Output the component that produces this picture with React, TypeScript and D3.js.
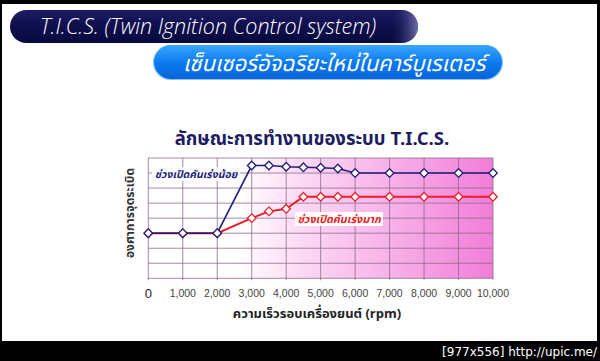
import React from "react";
import * as d3 from "d3";

const rpm = [0, 1000, 2000, 3000, 3500, 4000, 4500, 5000, 5500, 6000, 7000, 8000, 9000, 10000];
const lowThrottle = [3, 3, 3, 7.5, 7.5, 7.42, 7.38, 7.35, 7.3, 7, 7, 7, 7, 7];
const highThrottle = [3, 3, 3, 4, 4.45, 4.62, 5.42, 5.42, 5.42, 5.42, 5.42, 5.42, 5.42, 5.42];
const xTicks = [0, 1000, 2000, 3000, 4000, 5000, 6000, 7000, 8000, 9000, 10000];
const xTickLabels = ["0", "1,000", "2,000", "3,000", "4,000", "5,000", "6,000", "7,000", "8,000", "9,000", "10,000"];
const yGrid = [0, 1, 2, 3, 4, 5, 6, 7, 8];

const headerTitle = "T.I.C.S. (Twin Ignition Control system)";
const headerSub = "เซ็นเซอร์อัจฉริยะใหม่ในคาร์บูเรเตอร์";
const chartTitle = "ลักษณะการทำงานของระบบ T.I.C.S.";
const yTitle = "องศาการจุดระเบิด";
const xTitle = "ความเร็วรอบเครื่องยนต์ (rpm)";
const lowLabel = "ช่วงเปิดคันเร่งน้อย";
const highLabel = "ช่วงเปิดคันเร่งมาก";
const footer = "[977x556] http://upic.me/";

const THAI = "'Noto Sans Thai', 'Noto Sans', Tahoma, sans-serif";

export default function App() {
  const x = d3.scaleLinear().domain([0, 10000]).range([148.3, 493]);
  const y = d3.scaleLinear().domain([0, 8]).range([278.3, 158]);
  const line = d3.line<number>().x((_, i) => x(rpm[i])).y((d) => y(d));
  const diamond = (cx: number, cy: number, r = 4.3) =>
    `M${cx},${cy - r}L${cx + r},${cy}L${cx},${cy + r}L${cx - r},${cy}Z`;

  return (
    <svg width={600} height={361} style={{ position: "absolute", left: 0, top: 0, display: "block" }}>
      <defs>
        <linearGradient id="plotBg" x1="0" x2="1" y1="0" y2="0">
          <stop offset="0" stopColor="#ffffff" />
          <stop offset="0.26" stopColor="#ffffff" />
          <stop offset="0.45" stopColor="#fcd8f4" />
          <stop offset="0.72" stopColor="#f7aee8" />
          <stop offset="1" stopColor="#f27dd8" />
        </linearGradient>
        <linearGradient id="navyPill" x1="0" x2="0" y1="0" y2="1">
          <stop offset="0" stopColor="#1c1c66" />
          <stop offset="0.5" stopColor="#0e0e4c" />
          <stop offset="1" stopColor="#090940" />
        </linearGradient>
        <linearGradient id="navyRim" x1="0" x2="1" y1="0" y2="0">
          <stop offset="0" stopColor="#0e0e4c" stopOpacity="0" />
          <stop offset="0.93" stopColor="#0e0e4c" stopOpacity="0" />
          <stop offset="1" stopColor="#7a7ab8" stopOpacity="0.9" />
        </linearGradient>
        <linearGradient id="bluePill" x1="0" x2="0" y1="0" y2="1">
          <stop offset="0" stopColor="#3aa6ff" />
          <stop offset="0.55" stopColor="#0a78ee" />
          <stop offset="1" stopColor="#0a66d8" />
        </linearGradient>
      </defs>

      {/* frame */}
      <rect x={0} y={0} width={600} height={361} fill="#000" />
      <rect x={2} y={4} width={595} height={337} fill="#fff" />

      {/* header pills */}
      <rect x={10} y={10} width={408} height={33} rx={16.5} fill="url(#navyPill)" />
      <rect x={10} y={10} width={408} height={33} rx={16.5} fill="url(#navyRim)" />
      <text x={40} y={34} fill="#fff" fontFamily="'Open Sans', sans-serif" fontStyle="italic" fontSize={21.5} fontWeight={300}>
        {headerTitle}
      </text>
      <rect x={153} y={45} width={350} height={35} rx={17.5} fill="#7fc4ff" />
      <rect x={154} y={45} width={348} height={34} rx={17} fill="url(#bluePill)" />
      <text x={183} y={71} fill="#fff" fontFamily={THAI} fontStyle="italic" fontSize={22} fontWeight={400}>
        {headerSub}
      </text>

      {/* chart title */}
      <text x={312} y={145} textAnchor="middle" fill="#1c1c60" fontFamily={THAI} fontWeight={700} fontSize={18.5}>
        {chartTitle}
      </text>

      {/* plot background */}
      <rect x={x(0)} y={y(8)} width={x(10000) - x(0)} height={y(0) - y(8)} fill="url(#plotBg)" />
      {yGrid.map((v) => (
        <line key={"h" + v} x1={x(0)} x2={x(10000)} y1={y(v)} y2={y(v)} stroke="#8c6c8c" strokeWidth={0.8} />
      ))}
      {xTicks.map((v) => (
        <line key={"v" + v} x1={x(v)} x2={x(v)} y1={y(8)} y2={y(0) + 2} stroke="#8c6c8c" strokeWidth={0.8} />
      ))}

      {/* lines */}
      <path d={line(highThrottle) || ""} fill="none" stroke="#ee1c25" strokeWidth={2} />
      <path d={line(lowThrottle) || ""} fill="none" stroke="#1e1e78" strokeWidth={1.6} />
      {highThrottle.map((v, i) => (
        <path key={"hm" + i} d={diamond(x(rpm[i]), y(v))} fill="#fff" stroke="#ee1c25" strokeWidth={1.3} />
      ))}
      {lowThrottle.map((v, i) => (
        <path key={"lm" + i} d={diamond(x(rpm[i]), y(v))} fill="#fff" stroke="#1e1e78" strokeWidth={1.3} />
      ))}

      {/* series labels */}
      <rect x={152} y={167} width={88} height={14} fill="#fff" />
      <text x={196} y={178} textAnchor="middle" fill="#1e1e78" fontFamily={THAI} fontStyle="italic" fontWeight={700} fontSize={10.5}>
        {lowLabel}
      </text>
      <rect x={295} y={212} width={88} height={14} fill="#fff" />
      <text x={339} y={223} textAnchor="middle" fill="#ee1c25" fontFamily={THAI} fontStyle="italic" fontWeight={700} fontSize={10.8}>
        {highLabel}
      </text>

      {/* axes labels */}
      {xTicks.map((v, i) => (
        <text
          key={"t" + v}
          x={x(v)}
          y={i === 0 ? 298 : 297}
          textAnchor="middle"
          fill={i === 0 ? "#222" : "#444"}
          fontFamily="Arial, 'Liberation Sans', sans-serif"
          fontSize={i === 0 ? 13 : 10.5}
        >
          {xTickLabels[i]}
        </text>
      ))}
      <text x={317} y={318} textAnchor="middle" fill="#222" fontFamily={THAI} fontWeight={700} fontSize={13}>
        {xTitle}
      </text>
      <text
        transform={`translate(134, 213) rotate(-90)`}
        textAnchor="middle"
        fill="#333"
        fontFamily={THAI}
        fontWeight={700}
        fontSize={12}
      >
        {yTitle}
      </text>

      {/* footer */}
      <text x={597} y={356} textAnchor="end" fill="#fff" fontFamily="'DejaVu Sans', sans-serif" fontSize={12}>
        {footer}
      </text>
    </svg>
  );
}
